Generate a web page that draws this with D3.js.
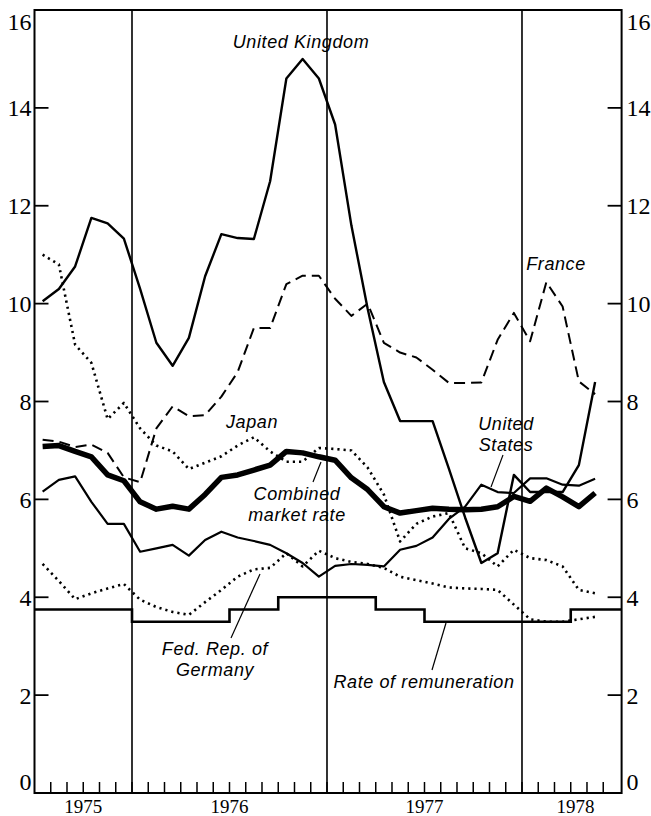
<!DOCTYPE html>
<html>
<head>
<meta charset="utf-8">
<script src="https://cdn.jsdelivr.net/npm/d3@7"></script>
<style>
  body { margin: 0; background: #fff; }
  svg { display: block; }
</style>
</head>
<body>
<div id="chart"></div>
<script>
// monthly averages, July 1975 .. May 1978 (plotted mid-month)
const months = ["1975-07","1975-08","1975-09","1975-10","1975-11","1975-12",
  "1976-01","1976-02","1976-03","1976-04","1976-05","1976-06","1976-07","1976-08","1976-09","1976-10","1976-11","1976-12",
  "1977-01","1977-02","1977-03","1977-04","1977-05","1977-06","1977-07","1977-08","1977-09","1977-10","1977-11","1977-12",
  "1978-01","1978-02","1978-03","1978-04","1978-05"];

const unitedKingdom = [10.05, 10.3, 10.76, 11.75, 11.64, 11.33, 10.3, 9.2, 8.73, 9.3, 10.56, 11.42,
  11.34, 11.32, 12.5, 14.6, 15.0, 14.6, 13.66, 11.6, 9.9, 8.4, 7.6, 7.6,
  7.6, 6.63, 5.63, 4.7, 4.9, 6.5, 6.15, 6.15, 6.15, 6.7, 8.4];
const france = [7.22, 7.18, 7.07, 7.12, 6.95, 6.45, 6.35, 7.45, 7.9, 7.7, 7.72, 8.1,
  8.6, 9.5, 9.5, 10.4, 10.57, 10.57, 10.1, 9.75, 10.0, 9.2, 9.0, 8.9,
  8.65, 8.38, 8.38, 8.39, 9.26, 9.81, 9.23, 10.44, 9.94, 8.41, 8.15];
const japan = [11.0, 10.8, 9.16, 8.79, 7.64, 7.97, 7.45, 7.1, 6.98, 6.62, 6.75, 6.88,
  7.1, 7.27, 6.98, 6.77, 6.77, 7.05, 7.03, 7.0, 6.65, 6.1, 5.14, 5.5,
  5.65, 5.72, 5.0, 4.9, 4.63, 4.97, 4.8, 4.76, 4.63, 4.15, 4.08];
const germany = [4.68, 4.33, 3.96, 4.08, 4.18, 4.27, 3.95, 3.8, 3.7, 3.64, 3.9, 4.15,
  4.42, 4.57, 4.6, 4.9, 4.63, 4.95, 4.8, 4.72, 4.68, 4.6, 4.42, 4.35,
  4.28, 4.2, 4.18, 4.17, 4.15, 3.85, 3.55, 3.5, 3.5, 3.55, 3.6];
const unitedStates = [6.16, 6.4, 6.47, 5.95, 5.5, 5.5, 4.93, 5.0, 5.07, 4.85, 5.17, 5.34,
  5.22, 5.15, 5.07, 4.9, 4.7, 4.42, 4.64, 4.68, 4.66, 4.63, 4.97, 5.05,
  5.22, 5.6, 5.85, 6.3, 6.15, 6.13, 6.43, 6.43, 6.3, 6.28, 6.42];
const combined = [7.08, 7.1, 6.98, 6.87, 6.5, 6.38, 5.95, 5.8, 5.86, 5.8, 6.1, 6.45,
  6.5, 6.6, 6.7, 6.98, 6.95, 6.87, 6.8, 6.44, 6.2, 5.85, 5.72, 5.77,
  5.82, 5.8, 5.79, 5.8, 5.85, 6.06, 5.96, 6.23, 6.05, 5.85, 6.13];

// rate of remuneration, set quarterly (month index from July 1975)
const remQuarters = [0, 3, 6, 9, 12, 15, 18, 21, 24, 27, 30, 33];
const remRates = [3.75, 3.75, 3.5, 3.5, 3.75, 4.0, 4.0, 3.75, 3.5, 3.5, 3.5, 3.75];

const yTicks = [0, 2, 4, 6, 8, 10, 12, 14, 16];
const yearLabels = ["1975", "1976", "1977", "1978"];
const yearPos = [3, 12, 24, 33.3];
const midYears = [6, 18, 30];

const W = 651, H = 816;
const serif = "'Liberation Serif', 'Times New Roman', serif";
const sans = "'Liberation Sans', Arial, sans-serif";
const x = d3.scaleLinear().domain([0, 36.13]).range([34.5, 621.6]);
const y = d3.scaleLinear().domain([0, 16]).range([793, 10]);

const svg = d3.select("#chart").append("svg")
  .attr("width", W).attr("height", H)
  .attr("viewBox", `0 0 ${W} ${H}`);

svg.append("rect").attr("width", W).attr("height", H).attr("fill", "#fff");

// frame
const frame = svg.append("g").attr("stroke", "#000").attr("fill", "none");
frame.append("rect")
  .attr("x", x(0)).attr("y", y(16))
  .attr("width", x(36.13) - x(0)).attr("height", y(0) - y(16))
  .attr("stroke-width", 2);

// mid-year rules
frame.selectAll("line.mid").data(midYears).join("line")
  .attr("x1", d => x(d)).attr("x2", d => x(d))
  .attr("y1", y(16)).attr("y2", y(0))
  .attr("stroke-width", 1.6);

// month ticks along bottom
frame.selectAll("line.mt").data(d3.range(1, 36)).join("line")
  .attr("x1", d => x(d)).attr("x2", d => x(d))
  .attr("y1", y(0)).attr("y2", y(0) - 11)
  .attr("stroke-width", 1.5);

// y ticks both sides
frame.selectAll("line.yl").data(yTicks.slice(1, -1)).join("line")
  .attr("x1", x(0)).attr("x2", x(0) + 14)
  .attr("y1", d => y(d)).attr("y2", d => y(d))
  .attr("stroke-width", 1.8);
frame.selectAll("line.yr").data(yTicks.slice(1, -1)).join("line")
  .attr("x1", x(36.13)).attr("x2", x(36.13) - 14)
  .attr("y1", d => y(d)).attr("y2", d => y(d))
  .attr("stroke-width", 1.8);

const labY = d => Math.min(Math.max(y(d), 22), 782);
const numText = (sel) => sel
  .attr("font-family", serif).attr("font-size", 24).attr("fill", "#000")
  .attr("y", labY).attr("dy", "0.35em").text(d => d);
svg.append("g").selectAll("text").data(yTicks).join("text")
  .call(numText)
  .attr("x", x(0) - 3).attr("text-anchor", "end");
svg.append("g").selectAll("text").data(yTicks).join("text")
  .call(numText)
  .attr("x", x(36.13) + 5).attr("text-anchor", "start");

svg.append("g").selectAll("text").data(yearLabels).join("text")
  .attr("font-family", serif).attr("font-size", 19).attr("fill", "#000")
  .attr("x", (d, i) => x(yearPos[i])).attr("y", 813)
  .attr("text-anchor", "middle").text(d => d);

// series
const line = d3.line().x((d, i) => x(i + 0.5)).y(d => y(d));

const series = [
  {v: germany, w: 2.6, dash: "2.2,4"},
  {v: japan, w: 2.6, dash: "2.2,4"},
  {v: france, w: 2, dash: "11,6"},
  {v: unitedStates, w: 2.2, dash: null},
  {v: unitedKingdom, w: 2.4, dash: null},
  {v: combined, w: 5.5, dash: null}
];

svg.append("g").selectAll("path").data(series).join("path")
  .attr("fill", "none").attr("stroke", "#000")
  .attr("stroke-width", d => d.w)
  .attr("stroke-dasharray", d => d.dash)
  .attr("stroke-linejoin", "round")
  .attr("d", d => line(d.v));

// rate of remuneration step line
const remData = remQuarters.map((q, i) => [q, remRates[i]]);
remData.push([36.13, remRates[remRates.length - 1]]);
svg.append("path")
  .attr("fill", "none").attr("stroke", "#000").attr("stroke-width", 2.6)
  .attr("d", d3.line().curve(d3.curveStepAfter).x(d => x(d[0])).y(d => y(d[1]))(remData));

// labels
const labels = [
  {t: ["United Kingdom"], x: 301, y: 48},
  {t: ["France"], x: 556, y: 270},
  {t: ["Japan"], x: 252, y: 428},
  {t: ["Combined", "market rate"], x: 297, y: 500},
  {t: ["United", "States"], x: 506, y: 430},
  {t: ["Fed. Rep. of", "Germany"], x: 215, y: 655},
  {t: ["Rate of remuneration"], x: 424, y: 688}
];
labels.forEach(l => {
  const t = svg.append("text")
    .attr("font-family", sans).attr("font-style", "italic").attr("font-size", 18)
    .attr("letter-spacing", 0.6).attr("fill", "#000")
    .attr("text-anchor", "middle");
  l.t.forEach((s, i) => t.append("tspan").attr("x", l.x).attr("y", l.y + i * 21).text(s));
});

// pointer strokes
const pointers = [
  [[313, 482], [321, 462]],
  [[503, 455], [491, 487]],
  [[231, 638], [260, 574]],
  [[432, 670], [446, 623]]
];
svg.append("g").selectAll("path").data(pointers).join("path")
  .attr("fill", "none").attr("stroke", "#000").attr("stroke-width", 1.2)
  .attr("d", d => d3.line()(d));
</script>
</body>
</html>
